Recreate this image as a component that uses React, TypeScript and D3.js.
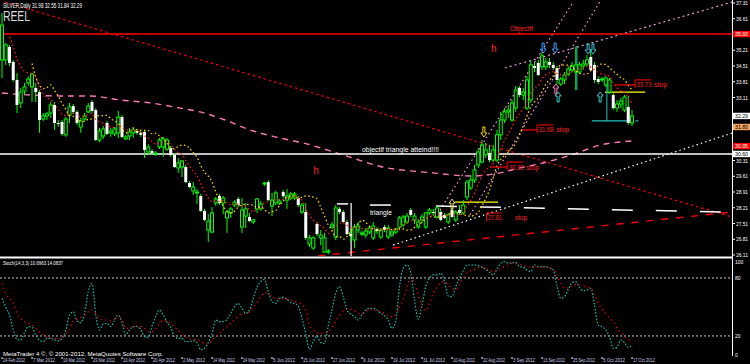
import React from "react";
import * as d3 from "d3";

// ---------- data (daily bars) ----------
const opens = [34.78,34.78,35.36,34.69,33.89,32.87,33.40,33.76,33.58,33.53,
33.35,32.15,32.29,32.42,32.78,31.98,32.02,31.45,32.33,32.73,
32.47,31.80,32.15,32.47,32.91,32.55,31.22,31.40,31.98,31.54,
31.49,31.54,32.24,31.27,31.40,31.54,31.62,31.54,31.58,30.69,
30.73,30.60,30.91,30.91,30.82,30.86,30.56,29.98,30.02,30.02,
29.31,28.96,28.87,28.73,28.07,27.22,27.13,28.42,28.73,28.42,
27.76,27.98,28.33,28.60,27.35,27.84,27.80,27.58,28.16,28.16,
29.27,29.35,28.29,28.42,28.42,28.91,28.55,28.64,28.64,28.64,
28.02,28.02,26.60,26.42,27.49,26.87,26.24,26.24,27.35,26.91,
28.16,28.02,27.58,27.04,26.78,27.22,27.04,27.00,27.13,26.87,
27.27,26.91,27.35,26.91,27.00,27.13,27.35,27.45,27.58,28.11,
27.67,27.35,27.67,27.35,27.98,28.02,27.80,28.02,27.89,27.58,
28.11,27.67,28.11,27.98,28.69,29.09,29.44,30.11,30.24,30.56,
30.64,30.33,30.33,31.45,32.11,32.47,32.11,32.64,33.53,33.22,
32.64,33.00,34.51,34.65,34.47,34.47,34.69,34.56,34.42,33.71,
33.89,34.15,34.33,34.24,34.24,34.51,34.60,34.91,34.56,33.93,
33.89,33.67,33.35,33.22,32.64,32.82,32.55,32.69,31.98];
const highs = [36.87,35.54,35.45,34.78,34.20,33.53,33.76,34.06,34.20,33.76,
33.44,32.42,32.47,32.91,32.91,32.11,32.11,32.24,32.87,32.82,
32.55,32.20,32.42,32.87,33.00,32.64,31.76,31.84,32.07,31.76,
31.80,32.51,32.33,31.45,31.76,31.76,31.71,31.62,31.67,31.04,
30.82,30.73,31.31,31.36,31.31,30.95,30.64,30.42,30.33,30.11,
29.40,29.35,29.04,28.82,28.16,27.93,28.24,28.69,28.82,28.73,
28.11,28.24,28.55,28.69,28.64,28.42,27.98,27.71,28.64,28.51,
29.35,29.44,28.87,28.96,28.60,29.00,29.04,28.91,28.91,28.73,
28.42,28.42,27.00,26.95,27.58,27.22,27.09,26.38,27.58,28.33,
28.24,28.11,27.67,27.31,27.49,27.58,27.18,27.31,27.40,27.58,
27.35,27.31,27.45,27.45,27.22,27.31,27.84,27.89,27.98,28.20,
27.98,27.71,27.93,28.02,28.20,28.16,28.29,28.11,27.98,27.98,
28.20,28.11,28.33,28.55,29.44,29.67,30.11,30.86,31.22,31.09,
31.00,31.00,31.67,32.47,32.64,32.78,33.00,33.62,33.62,33.53,
34.06,34.78,34.69,34.78,35.13,34.87,34.87,34.69,34.51,34.02,
34.24,34.51,34.69,35.36,34.69,34.78,35.00,35.22,34.69,34.06,
34.02,34.06,33.98,33.35,33.00,33.09,33.22,33.18,32.55];
const lows = [33.97,34.56,34.51,33.80,32.42,32.64,33.22,33.62,32.91,32.91,
31.54,32.07,32.11,32.20,31.67,31.80,31.40,31.36,31.98,32.38,
31.89,31.54,32.07,32.42,32.42,31.18,31.13,31.27,31.45,31.36,
31.40,31.31,31.31,31.22,31.22,31.31,31.45,31.36,30.42,30.56,
30.56,30.51,30.82,30.47,30.73,30.47,29.98,29.76,29.58,29.31,
29.09,28.78,28.38,28.02,27.62,26.69,27.09,28.29,28.33,27.93,
27.09,27.76,28.24,28.24,27.09,27.31,27.58,27.49,27.98,28.07,
29.18,28.51,27.84,28.33,28.33,28.64,28.16,28.55,28.55,28.24,
27.93,26.78,26.47,26.33,26.95,26.55,26.20,26.15,27.27,26.78,
27.93,27.53,27.00,26.69,26.42,27.09,26.95,26.87,27.04,26.78,
27.04,26.82,27.13,26.82,26.91,27.04,27.27,27.35,27.49,27.80,
27.49,27.27,27.53,27.27,27.89,27.84,27.71,27.62,27.71,27.49,
27.76,27.58,27.89,27.89,28.55,29.00,29.31,29.98,30.20,30.42,
30.24,30.24,30.24,31.22,31.98,32.20,32.02,32.47,33.13,33.00,
32.55,32.87,34.24,34.06,34.33,34.33,34.42,34.33,33.71,33.62,
33.71,34.06,34.24,33.44,34.15,34.33,34.47,34.29,33.76,33.71,
33.80,33.58,33.27,32.55,32.47,32.64,32.47,31.89,31.84];
const closes = [36.33,35.45,34.65,33.89,32.78,33.35,33.58,33.93,34.15,33.35,
32.11,32.29,32.38,32.78,31.98,31.93,31.49,32.15,32.69,32.47,
31.98,32.07,32.29,32.73,32.51,31.22,31.62,31.71,31.49,31.62,
31.71,32.24,31.36,31.36,31.58,31.67,31.54,31.45,30.78,30.91,
30.64,30.64,31.22,31.27,31.22,30.56,30.02,30.20,30.29,29.35,
29.13,29.13,28.91,28.07,27.67,27.62,27.98,28.60,28.42,28.64,
28.02,28.16,28.46,28.33,28.11,28.16,27.62,27.67,28.60,28.38,
29.31,28.55,28.55,28.87,28.51,28.73,28.73,28.82,28.82,28.33,
28.33,26.87,26.87,26.87,27.04,27.00,26.87,26.29,27.45,28.20,
28.02,27.58,27.04,26.95,27.35,27.40,27.09,27.18,27.31,27.40,
27.18,27.22,27.22,27.31,27.13,27.27,27.76,27.80,27.84,27.89,
27.84,27.58,27.80,27.98,28.11,27.98,28.20,27.67,27.76,27.89,
27.80,28.02,27.98,28.33,29.35,29.44,29.89,30.69,31.00,30.78,
30.33,30.78,31.45,32.11,32.47,32.55,32.87,33.44,33.22,33.35,
33.89,34.56,34.42,34.11,34.96,34.69,34.56,34.42,33.89,33.93,
34.11,34.38,34.51,34.56,34.56,34.60,34.78,34.33,33.89,33.80,
33.93,33.98,33.89,32.64,32.82,32.95,33.13,31.98,32.29];

// stochastic (main %K and signal %D) per bar
const stochMain = [59,49.6,41.7,26.2,16.5,15.8,23.4,29.6,29,21,
15.8,14.1,17.6,17.6,15.8,15,17.6,25.5,41.7,45,
35.5,33.8,43.4,65.8,74.4,41.7,26.2,32.4,33.1,29.6,
36.5,41.7,33.8,21,26.2,29.6,29.6,26.9,19.3,18.6,
30.3,40,46.9,41.7,34.1,28.9,19.3,17.6,17.6,14.1,
14.1,15.1,13.1,5.5,7.2,13.1,22,36.5,34.8,34.8,
37.2,43.4,50.3,53.7,48.6,43.4,46.9,58.9,70.3,76.2,
78.6,65.8,55.5,53.7,58.9,60,57.9,54.4,53.7,51,
38.2,22.7,6.2,14.1,20,13.1,12.4,30.3,47.5,64.1,
71,60.6,46.9,42.7,40,36.5,41.7,46.9,48.6,
48.6,46.9,43.4,41,36.5,27.9,34.8,71,89.9,93.4,
84.8,57.2,37.2,52,71,79.6,83.1,83.1,84.8,76.2,
61.3,60.6,71,79.6,87.5,93.4,93.4,93.4,92.7,91,
88.9,85.8,83.1,89.3,95.1,96.8,95.1,95.8,96.1,91.7,
91,88.2,86.5,93.4,91.7,91.7,91.7,90.6,88.2,71.7,
58.9,60.6,68.2,75.1,76.2,70.3,66.8,67.5,69.3,52,
31,29.6,26.2,19.3,7.2,8.2,15.8,13.1,8.2,10.7];
const stochSignal = [74.4,64.1,58.9,54.4,43.4,38.2,34.8,33.1,31.3,27.9,
23.8,21,18.6,17.9,17.6,16.5,18.6,22.7,26.2,35.8,
37.5,39.3,41.7,45.1,46.9,43.4,38.2,36.5,36.5,35.5,
37.5,41,35.8,27.9,27.9,29.6,30.3,29.6,27.9,24.4,
24.4,27.6,32.4,36.5,34.8,33.1,28.9,26.2,21,18.6,
17.2,16.5,15.8,15.1,11.7,11.7,15.8,19.3,22.7,26.2,
29.6,33.1,36.5,41,42.7,43.4,45.1,49.6,54.4,60.6,
64.8,63.4,60.6,58.9,58.9,58.5,57.9,57.2,55.8,54.4,
52.4,46.9,31.3,26.2,23.4,22.7,22.7,24.4,28.9,34.8,
41.7,45.8,47.5,47.5,46.2,43.4,42.7,44.8,48.2,
46.9,46.2,45.1,43.4,40.7,40,41.7,49.6,57.9,70.3,
80.6,74.4,62.4,50.3,46.2,53.7,64.1,70.3,75.1,76.2,
72.7,69.3,67.5,73.7,79.6,85.5,87.5,88.9,91,91,
89.9,88.2,86.5,88.2,89.9,91.7,93.4,95.1,94.8,94.1,
92.7,91.7,91,91.7,91,91,91,89.9,88.9,83.1,
74.4,69.3,70,71.7,73.4,72.7,71.7,70.3,69.3,62.4,
53.7,47.5,43.4,38.2,34.8,27.9,23.4,20,16.5,14.1];

// long moving average (bar, price)
const longMaBars = [0,7.5,15.5,23.5,31.5,39.5,47.5,52.8,59.5,66.1,72.8,80.3,90.9,101.6,114.9,124.8,132.8,138.1,144.3,153.3,159.5,164.8,168.3];
const longMaVals = [33.31,33.22,33.18,33.18,33.00,32.87,32.64,32.47,32.11,31.67,31.36,31.09,30.56,30.02,29.76,29.62,29.76,29.98,30.20,30.64,31.00,31.13,31.18];

// axis labels
const priceTicks = [37.31,36.61,35.91,35.21,34.51,33.81,33.11,32.41,31.71,31.01,30.31,29.61,28.91,28.21,27.51,26.81,26.11];
const dateBars = [0,8,16,24,32,40,48,56,64,72,80,88,96,104,112,120,128,136,144,152,160,168];
const dateLabels = ["24 Feb 2012","7 Mar 2012","19 Mar 2012","29 Mar 2012","10 Apr 2012","20 Apr 2012","2 May 2012","14 May 2012","24 May 2012","5 Jun 2012","15 Jun 2012","27 Jun 2012","9 Jul 2012","19 Jul 2012","31 Jul 2012","10 Aug 2012","22 Aug 2012","3 Sep 2012","13 Sep 2012","25 Sep 2012","5 Oct 2012","17 Oct 2012"];
const stochLevels = [80, 20];
const stochTicks = [100, 80, 20, 0];

// objects drawn on the chart (bar, price)
const objectifPrice = 35.93;
const triangleObjPrice = 30.60;
const boxPrices = [35.93, 32.29, 31.80, 30.95, 30.60];
const redDiag = [[0.8, 37.35], [194.7, 27.80]];
const redSupport = [[84.3, 26.07], [194.7, 28.02]];
const whiteRise = [[104.3, 26.55], [194.7, 31.53]];
const pinkShallow = [[134.1, 34.42], [194.7, 37.35]];
const pinkSteepA = [[116.8, 28.11], [152.3, 37.35]];
const pinkSteepB = [[124.8, 27.89], [159.7, 37.44]];
const triTop = [[115.7, 28.29], [192, 28.02]];
const stopPrices = [33.67, 31.67, 30.02];
const stopStart = [163.5, 138.7, 130.4];
const stopEnd = [168.8, 142.7, 134.7];
const stopTexts = ["33.73", "31.68", "30.30"];
const arrowBars = [120, 128.5, 144.3, 147.5, 156.3, 157.6, 147.7, 148.3, 159.5];
const arrowPrices = [28.46, 31.49, 35.22, 35.22, 35.18, 35.18, 33.58, 33.22, 33.22];
const arrowDirs = ["up", "down", "down", "down", "down", "down", "up", "up", "up"];
const arrowColors = ["#e8e070", "#ffd700", "#3aa0ff", "#3aa0ff", "#40c8e0", "#40c8e0", "#ff88cc", "#40c8c8", "#40c8c8"];

const FONT = "'Liberation Sans', Arial, sans-serif";

function ema(v: number[], p: number) {
  const k = 2 / (p + 1);
  const out: number[] = [];
  v.forEach((c, i) => out.push(i === 0 ? c : c * k + out[i - 1] * (1 - k)));
  return out;
}

export default function App() {
  const x = d3.scaleLinear().domain([0, 168]).range([2, 632]);
  const y = d3.scaleLinear().domain([26.11, 37.31]).range([255, 3]);
  const ys = d3.scaleLinear().domain([0, 100]).range([355.3, 258.6]);
  const bars = d3.range(closes.length);

  const line = d3.line<[number, number]>().x(d => x(d[0])).y(d => y(d[1]));
  const seg = (s: number[][]) => line(s as [number, number][]) || "";

  const redMa = ema(closes, 8);
  const yellowPts: [number, number][] = [];
  for (let i = 8; i < closes.length; i++) {
    const m = d3.mean(closes.slice(i - 8, i - 3)) as number;
    yellowPts.push([i, m]);
  }
  const redPts: [number, number][] = bars.slice(2).map(i => [i, redMa[i]]);
  const longPts: [number, number][] = longMaBars.map((b, i) => [b, longMaVals[i]]);
  const curveLine = d3.line<[number, number]>().x(d => x(d[0])).y(d => y(d[1])).curve(d3.curveMonotoneX);

  const sLine = d3.line<number>().x((_, i) => x(i)).y(d => ys(d)).curve(d3.curveMonotoneX);

  const arrowPath = (cx: number, cy: number, dir: string) => {
    const s = dir === "down" ? 1 : -1;
    const p = [[cx - 1, cy - 7 * s], [cx + 1, cy - 7 * s], [cx + 1, cy - 1 * s], [cx + 3, cy - 1 * s], [cx, cy + 3 * s], [cx - 3, cy - 1 * s], [cx - 1, cy - 1 * s]];
    return "M" + p.map(q => q.join(",")).join("L") + "Z";
  };

  const boxBg = ["#ff0000", "#ffffff", "#f4a460", "#ff0000", "#ffffff"];
  const boxFg = ["#ffffff", "#000000", "#000000", "#ffffff", "#000000"];
  const visibleTicks = priceTicks.filter(p => boxPrices.every(b => Math.abs(y(p) - y(b)) >= 6.5));

  return (
    <svg width={750} height={364} style={{ position: "absolute", left: 0, top: 0, background: "#000" }} fontFamily={FONT}>
      <rect x={0} y={0} width={750} height={364} fill="#000" />
      <defs>
        <clipPath id="mainClip"><rect x={0} y={0} width={732} height={256} /></clipPath>
        <clipPath id="subClip"><rect x={0} y={259} width={732} height={98} /></clipPath>
      </defs>

      <g clipPath="url(#mainClip)">
        {/* long MA */}
        <path d={curveLine(longPts) || ""} fill="none" stroke="#ff77bb" strokeWidth={1.4} strokeDasharray="6,5" />
        {/* trendlines */}
        <path d={seg(redDiag)} stroke="#ff0000" strokeWidth={1.2} strokeDasharray="2.5,3" fill="none" />
        <path d={seg(redSupport)} stroke="#ff0000" strokeWidth={1.4} strokeDasharray="7,8" fill="none" />
        <path d={seg(whiteRise)} stroke="#ffffff" strokeWidth={1.2} strokeDasharray="1.5,3" fill="none" />
        <path d={seg(pinkShallow)} stroke="#ee99dd" strokeWidth={1.2} strokeDasharray="2,3" fill="none" />
        <path d={seg(pinkSteepA)} stroke="#ff99dd" strokeWidth={1.2} strokeDasharray="1.5,3" fill="none" />
        <path d={seg(pinkSteepB)} stroke="#ff99dd" strokeWidth={1.2} strokeDasharray="1.5,3" fill="none" />
        <path d={seg(triTop)} stroke="#ffffff" strokeWidth={1.5} strokeDasharray="21,23" fill="none" />
        <line x1={x(98.1)} x2={x(103.7)} y1={y(28.33)} y2={y(28.33)} stroke="#fff" strokeWidth={1.5} />
        <line x1={x(89.3)} x2={x(92.3)} y1={y(28.38)} y2={y(28.38)} stroke="#fff" strokeWidth={1.5} />
        <line x1={x(93.1)} x2={x(93.1)} y1={y(28.42)} y2={257} stroke="#fff" strokeWidth={1.2} />
        {/* horizontal objectives */}
        <line x1={0} x2={732} y1={y(objectifPrice)} y2={y(objectifPrice)} stroke="#ff0000" strokeWidth={1.6} />
        <line x1={0} x2={732} y1={y(triangleObjPrice)} y2={y(triangleObjPrice)} stroke="#ffffff" strokeWidth={1.3} />
        {/* yellow / cyan helper lines */}
        <line x1={x(160.8)} x2={x(171.5)} y1={y(33.35)} y2={y(33.35)} stroke="#ffff00" strokeWidth={1.2} />
        <line x1={x(120.8)} x2={x(132.3)} y1={y(28.46)} y2={y(28.46)} stroke="#ffff00" strokeWidth={1.2} />
        <line x1={x(157.3)} x2={x(168.3)} y1={y(32.07)} y2={y(32.07)} stroke="#20c0c0" strokeWidth={1.2} />
        <line x1={x(168.9)} x2={x(169.7)} y1={y(32.07)} y2={y(32.07)} stroke="#20c0c0" strokeWidth={1.2} />
        <line x1={x(161.3)} x2={x(161.3)} y1={y(33.67)} y2={y(32.07)} stroke="#20c0c0" strokeWidth={1} />
        <line x1={x(153.3)} x2={x(153.3)} y1={y(35.40)} y2={y(33.44)} stroke="#20c0c0" strokeWidth={1} />

        {/* candles */}
        {bars.map(i => (
          <line key={"w" + i} x1={x(i)} x2={x(i)} y1={y(highs[i])} y2={y(lows[i])} stroke="#00ff00" strokeWidth={1} />
        ))}
        {bars.map(i => {
          const bull = closes[i] >= opens[i];
          const top = y(Math.max(opens[i], closes[i]));
          const h = Math.max(1, Math.abs(y(opens[i]) - y(closes[i])));
          return bull ? (
            <rect key={"b" + i} x={x(i) - 1.5} y={top} width={3} height={h} fill="#000" stroke="#00ff00" strokeWidth={1} />
          ) : (
            <rect key={"b" + i} x={x(i) - 1.5} y={top} width={3} height={h} fill="#ffffff" />
          );
        })}

        {/* short moving averages */}
        <path d={curveLine(yellowPts) || ""} fill="none" stroke="#ffd700" strokeWidth={1.3} strokeDasharray="1.5,2.5" />
        <path d={curveLine(redPts) || ""} fill="none" stroke="#ff1a1a" strokeWidth={1.3} strokeDasharray="1.5,2.5" />

        {/* stop annotations */}
        {stopPrices.map((p, k) => {
          const yy = y(p), x1 = x(stopStart[k]), x2 = x(stopEnd[k]);
          return (
            <g key={"s" + k}>
              <line x1={x1} x2={x2} y1={yy} y2={yy} stroke="#ff0000" strokeWidth={1.2} />
              <line x1={x2} x2={x2} y1={yy - 5} y2={yy + 3.5} stroke="#ff0000" strokeWidth={1} />
              <line x1={x2} x2={x2 + 16} y1={yy - 5} y2={yy - 5} stroke="#ff0000" strokeWidth={1} />
              <text x={x2 + 1.5} y={yy + 2.5} fontSize={7} fill="#ff2020" textLength={15} lengthAdjust="spacingAndGlyphs">{stopTexts[k]}</text>
              <text x={x2 + 19} y={yy + 2.5} fontSize={7} fill="#ff2020" textLength={13} lengthAdjust="spacingAndGlyphs">stop</text>
            </g>
          );
        })}
        <line x1={x(129.2)} x2={x(129.2)} y1={y(27.80) - 4} y2={y(27.80) + 4} stroke="#ff0000" strokeWidth={1} />
        <line x1={x(129.2)} x2={x(133.2)} y1={y(27.80) - 4} y2={y(27.80) - 4} stroke="#ff0000" strokeWidth={1} />
        <text x={x(129.2) + 1.5} y={y(27.80) + 3} fontSize={7} fill="#ff2020" textLength={14} lengthAdjust="spacingAndGlyphs">27.81</text>
        <text x={x(136.8)} y={y(27.80) + 3} fontSize={7} fill="#ff2020" textLength={12} lengthAdjust="spacingAndGlyphs">stop</text>

        {/* arrows */}
        {arrowBars.map((b, k) => (
          <path key={"a" + k} d={arrowPath(x(b), y(arrowPrices[k]), arrowDirs[k])} fill="none" stroke={arrowColors[k]} strokeWidth={1} />
        ))}

        {/* texts */}
        <text x={x(130.4)} y={y(35.13)} fontSize={10} fill="#ff2020">h</text>
        <text x={x(83)} y={y(29.71)} fontSize={10} fill="#ff2020">h</text>
        <text x={510} y={y(objectifPrice) - 3} fontSize={8} fill="#ff2020" textLength={23} lengthAdjust="spacingAndGlyphs">Objectif</text>
        <text x={362} y={y(triangleObjPrice) - 2} fontSize={8} fill="#ffffff" textLength={77} lengthAdjust="spacingAndGlyphs">objectif triangle atteind!!!!</text>
        <text x={370} y={215} fontSize={8} fill="#ffffff" textLength={22} lengthAdjust="spacingAndGlyphs">triangle</text>
      </g>

      {/* header */}
      <text x={3} y={8} fontSize={6.5} fill="#ffffff" textLength={79} lengthAdjust="spacingAndGlyphs">SILVER,Daily  31.98 32.55 31.84 32.29</text>
      <text x={3} y={21} fontSize={14} fill="#dddddd" textLength={27} lengthAdjust="spacingAndGlyphs">REEL</text>

      {/* price axis */}
      <line x1={732.5} x2={732.5} y1={0} y2={356} stroke="#ffffff" strokeWidth={1} />
      {visibleTicks.map((p, k) => (
        <g key={"pt" + k}>
          <line x1={732} x2={735} y1={y(p)} y2={y(p)} stroke="#fff" />
          <text x={736} y={y(p) + 2} fontSize={5.5} fill="#ffffff" textLength={12} lengthAdjust="spacingAndGlyphs">{p.toFixed(2)}</text>
        </g>
      ))}
      {boxPrices.map((p, k) => (
        <g key={"ab" + k}>
          <rect x={733} y={y(p) - 3.2} width={17} height={6.4} fill={boxBg[k]} />
          <text x={735} y={y(p) + 2} fontSize={5.5} fill={boxFg[k]} textLength={13} lengthAdjust="spacingAndGlyphs">{p.toFixed(2)}</text>
        </g>
      ))}

      {/* separator */}
      <line x1={0} x2={732} y1={257.5} y2={257.5} stroke="#ffffff" strokeWidth={2} />

      {/* stochastic window */}
      <text x={3} y={265} fontSize={5.5} fill="#ffffff" textLength={60} lengthAdjust="spacingAndGlyphs">Stoch(14,3,3) 10.6963 14.0837</text>
      {stochLevels.map(l => (
        <line key={"lv" + l} x1={0} x2={732} y1={ys(l)} y2={ys(l)} stroke="#c8c8c8" strokeWidth={1} strokeDasharray="2,2" />
      ))}
      <g clipPath="url(#subClip)">
        <path d={sLine(stochMain) || ""} fill="none" stroke="#20b2aa" strokeWidth={1.2} strokeDasharray="1.6,1.6" />
        <path d={sLine(stochSignal) || ""} fill="none" stroke="#ff0000" strokeWidth={1.2} strokeDasharray="1.3,3.2" />
      </g>
      {stochTicks.map(t => (
        <text key={"st" + t} x={735} y={t === 100 ? 264 : ys(t) + 2} fontSize={5} fill="#ffffff">{t}</text>
      ))}
      <text x={3} y={356} fontSize={6} fill="#ffffff" textLength={160} lengthAdjust="spacingAndGlyphs">MetaTrader 4 ©, © 2001-2012, MetaQuotes Software Corp.</text>

      {/* time axis */}
      {dateBars.map((b, k) => (
        <g key={"d" + k}>
          <line x1={x(b)} x2={x(b)} y1={357} y2={359} stroke="#fff" />
          <text x={x(b) + 1} y={362} fontSize={5} fill="#c8d0f0" textLength={22} lengthAdjust="spacingAndGlyphs">{dateLabels[k]}</text>
        </g>
      ))}
    </svg>
  );
}
